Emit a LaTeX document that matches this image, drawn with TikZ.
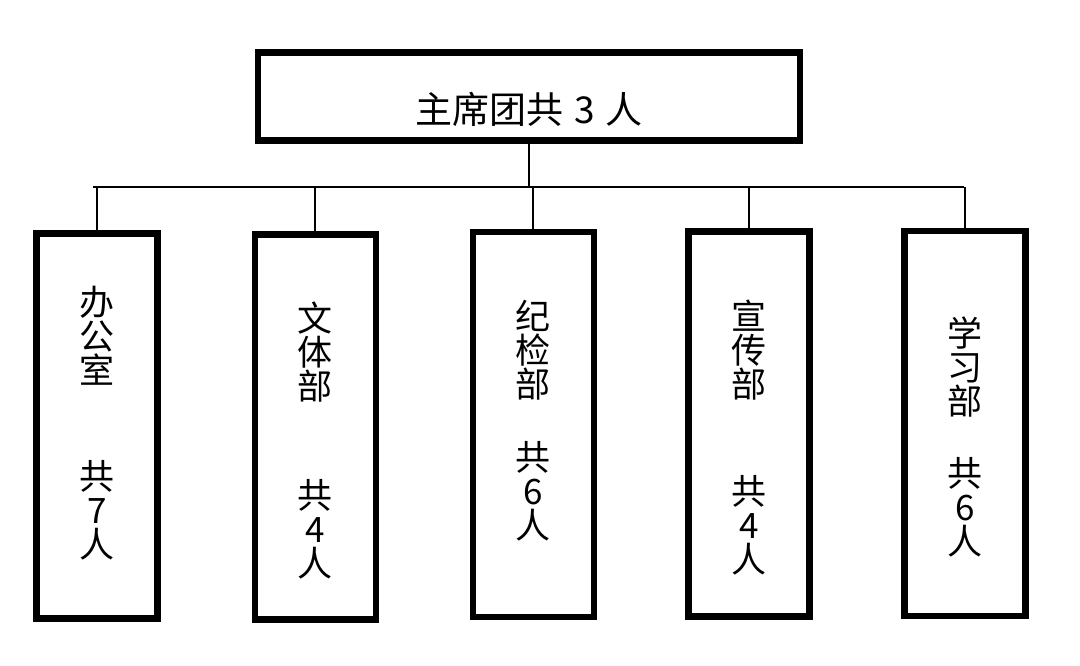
\documentclass[tikz,border=0pt]{standalone}
\usepackage{fontspec}
\newfontfamily\cjk{Noto Sans CJK SC}
\tikzset{
  box/.style = {rectangle, draw=black, line width=3.25pt, inner sep=0pt},
  chairbox/.style = {box, minimum width=271pt, minimum height=44pt},% 主席团
  deptbox/.style = {box, minimum width=60.5pt, minimum height=192.5pt},% 部门
  lbl/.style = {inner sep=0pt, align=center,
    font=\cjk\fontsize{17.5pt}{17pt}\selectfont},
  link/.style = {draw=black, line width=1pt}
}
\begin{document}
\begin{tikzpicture}[x=0.5pt, y=-0.5pt]
\useasboundingbox (0,0) rectangle (1080,665);
\node [chairbox] (chair) at (529,96.5) {};
\node [lbl, font=\cjk\fontsize{18.5pt}{18pt}\selectfont] (chairlabel) at (529,109)
  {主席团共\hspace{0.3em}3\hspace{0.3em}人};
% departments
\node [deptbox] (office) at (97,426) {};
\node [deptbox] (sport) at (315.3,427) {};
\node [deptbox] (discipline) at (533.3,424.4) {};
\node [deptbox] (publicity) at (749.2,424.2) {};
\node [deptbox] (study) at (965.2,423.4) {};
\node [lbl, anchor=north] (officelabel) at (97,286) {办\\公\\室\\[36pt]共\\7\\人};
\node [lbl, anchor=north] (sportlabel) at (315.3,301) {文\\体\\部\\[37.5pt]共\\4\\人};
\node [lbl, anchor=north] (disciplinelabel) at (533.3,300) {纪\\检\\部\\[19.5pt]共\\6\\人};
\node [lbl, anchor=north] (publicitylabel) at (749.2,300) {宣\\传\\部\\[36.5pt]共\\4\\人};
\node [lbl, anchor=north] (studylabel) at (965.2,316) {学\\习\\部\\[19pt]共\\6\\人};
% connectors
\coordinate (busL) at (93,187);
\coordinate (busR) at (964,187);
\draw [link] (chair.south) -- (chair.south |- busL);
\draw [link] (busL) -- (busR);
\foreach \d in {office,sport,discipline,publicity,study}
  \draw [link] (\d.north) -- (\d.north |- busL);
\end{tikzpicture}
\end{document}
